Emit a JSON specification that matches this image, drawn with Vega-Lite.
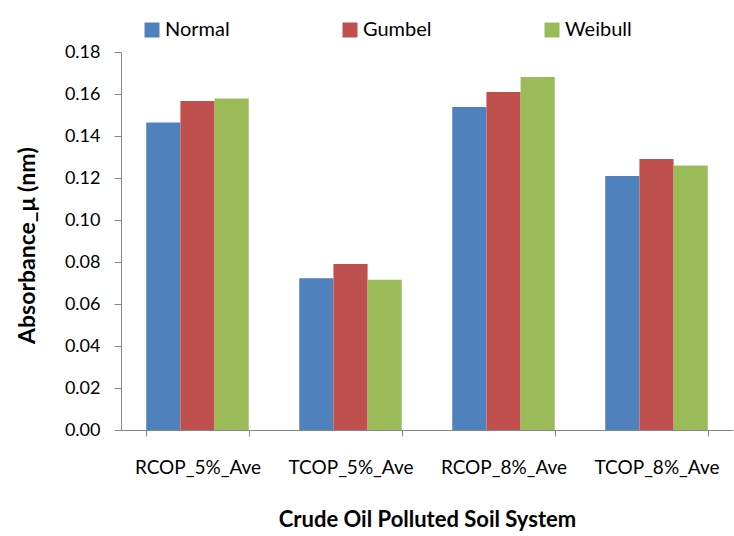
{
  "$schema": "https://vega.github.io/schema/vega-lite/v6.json",
  "width": 612,
  "height": 378,
  "autosize": {"type": "none"},
  "padding": {"left": 121, "top": 52, "right": 1, "bottom": 106},
  "background": "white",
  "config": {
    "view": {"stroke": null},
    "font": "Lato",
    "axis": {"domainColor": "#868686", "tickColor": "#868686", "labelColor": "#000000", "titleColor": "#000000", "grid": false}
  },
  "data": {
    "values": [
      {"system": "RCOP_5%_Ave", "dist": "Normal", "value": 0.1464},
      {"system": "RCOP_5%_Ave", "dist": "Gumbel", "value": 0.1567},
      {"system": "RCOP_5%_Ave", "dist": "Weibull", "value": 0.1578},
      {"system": "TCOP_5%_Ave", "dist": "Normal", "value": 0.0723},
      {"system": "TCOP_5%_Ave", "dist": "Gumbel", "value": 0.0791},
      {"system": "TCOP_5%_Ave", "dist": "Weibull", "value": 0.0715},
      {"system": "RCOP_8%_Ave", "dist": "Normal", "value": 0.1538},
      {"system": "RCOP_8%_Ave", "dist": "Gumbel", "value": 0.161},
      {"system": "RCOP_8%_Ave", "dist": "Weibull", "value": 0.1681},
      {"system": "TCOP_8%_Ave", "dist": "Normal", "value": 0.1209},
      {"system": "TCOP_8%_Ave", "dist": "Gumbel", "value": 0.1291},
      {"system": "TCOP_8%_Ave", "dist": "Weibull", "value": 0.1259}
    ]
  },
  "mark": {"type": "bar"},
  "encoding": {
    "x": {
      "field": "system", "type": "nominal", "sort": null,
      "scale": {"paddingInner": 0.33, "paddingOuter": 0.165},
      "axis": {
        "title": "Crude Oil Polluted Soil System",
        "labelAngle": 0, "labelFontSize": 19, "labelPadding": 22,
        "tickBand": "extent", "tickSize": 6,
        "titleFontSize": 22, "titleFontWeight": "bold", "titlePadding": 32
      }
    },
    "xOffset": {"field": "dist", "type": "nominal", "sort": ["Normal", "Gumbel", "Weibull"], "scale": {"paddingInner": 0, "paddingOuter": 0}},
    "y": {
      "field": "value", "type": "quantitative",
      "scale": {"domain": [0, 0.18], "nice": false},
      "axis": {
        "title": "Absorbance_μ (nm)",
        "values": [0, 0.02, 0.04, 0.06, 0.08, 0.1, 0.12, 0.14, 0.16, 0.18],
        "format": ".2f", "labelFontSize": 18, "labelPadding": 14, "tickSize": 7,
        "titleFontSize": 23, "titleFontWeight": "bold", "titleX": -82, "titleY": 193
      }
    },
    "color": {
      "field": "dist", "type": "nominal", "sort": ["Normal", "Gumbel", "Weibull"],
      "scale": {"domain": ["Normal", "Gumbel", "Weibull"], "range": ["#4F81BD", "#C0504D", "#9BBB59"]},
      "legend": {
        "title": null, "orient": "none", "direction": "horizontal",
        "legendX": 21, "legendY": -32,
        "symbolType": "square", "symbolSize": 225, "symbolStrokeWidth": 0,
        "labelFontSize": 20, "labelOffset": 3, "columnPadding": 110
      }
    }
  }
}
